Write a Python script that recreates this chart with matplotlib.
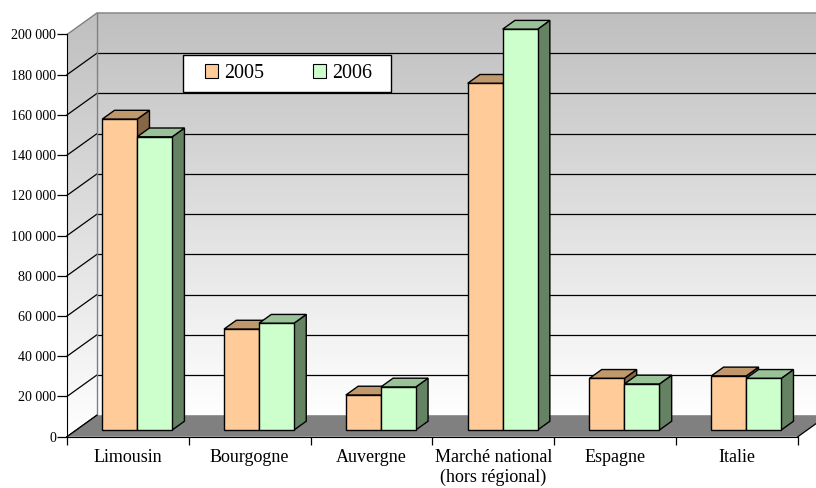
import matplotlib
matplotlib.use("Agg")
import matplotlib.pyplot as plt
import numpy as np
from matplotlib.patches import Polygon, Rectangle, Patch
from matplotlib.colors import LinearSegmentedColormap

categories = ["Limousin", "Bourgogne", "Auvergne", "Marché national\n(hors régional)", "Espagne", "Italie"]
series_names = ["2005", "2006"]
values_2005 = [154600, 50200, 17400, 172400, 25700, 26900]
values_2006 = [145800, 53100, 21400, 199300, 22900, 25700]
y_ticks = list(range(0, 200001, 20000))

FRONT = ["#FFCC99", "#CCFFCC"]
TOP = ["#C0986C", "#99C299"]
SIDE = ["#866644", "#658262"]
FLOOR = "#808080"
WALL_EDGE = "#808080"

plt.rcParams["font.family"] = ["Liberation Serif", "DejaVu Serif"]

# 3D-ish geometry (data units)
DX = 0.246      # depth offset along x (category units)
DY = 10700      # depth offset along y (value units)
X0, X1 = -0.5, 5.5
XR = 5.75
BW = 0.287      # bar width
F0, F1 = 0.31, 0.72   # bar depth span as fraction of floor depth

fig = plt.figure(figsize=(8.16, 4.88), dpi=100)
ax = fig.add_axes([0, 0, 1, 1])
ax.set_xlim(-1.050, 5.649)
ax.set_ylim(-25500, 217150)

# gradient walls
cmap = LinearSegmentedColormap.from_list("wall", ["#FFFFFF", "#BFBFBF"])
grad = np.linspace(0, 1, 256).reshape(-1, 1)
ytop = 200000 + DY

back = Polygon([(X0 + DX, DY), (XR, DY), (XR, ytop), (X0 + DX, ytop)], closed=True,
               facecolor="none", edgecolor="none", transform=ax.transData)
ax.add_patch(back)
im = ax.imshow(grad, extent=[X0 + DX, XR, DY, ytop], origin="lower", aspect="auto",
               cmap=cmap, zorder=0)
im.set_clip_path(back)

left = Polygon([(X0, 0), (X0 + DX, DY), (X0 + DX, ytop), (X0, 200000)], closed=True,
               facecolor="none", edgecolor="none", transform=ax.transData)
ax.add_patch(left)
im2 = ax.imshow(grad, extent=[X0, X0 + DX, 0, ytop], origin="lower", aspect="auto",
                cmap=cmap, zorder=0)
im2.set_clip_path(left)

# gridlines
for v in y_ticks[1:-1]:
    ax.plot([X0 + DX, XR], [v + DY, v + DY], color="black", lw=0.9, zorder=1)
for v in y_ticks[:-1]:
    ax.plot([X0, X0 + DX], [v, v + DY], color="black", lw=0.9, zorder=1)

# wall edges
ax.plot([X0, X0 + DX, XR], [200000, ytop, ytop], color=WALL_EDGE, lw=1.0, zorder=1)
ax.plot([X0 + DX, X0 + DX], [DY, ytop], color=WALL_EDGE, lw=1.0, zorder=1)

# floor
floor = Polygon([(X0, 0), (X1, 0), (X1 + DX, DY), (X0 + DX, DY)], closed=True,
                facecolor=FLOOR, edgecolor="none", zorder=2)
ax.add_patch(floor)
ax.plot([X0, X0 + DX], [0, DY], color="black", lw=0.9, zorder=2)
ax.plot([X1, X1 + DX], [0, DY], color="black", lw=0.9, zorder=2)

# bars
OX, OY = F0 * DX, F0 * DY
BDX, BDY = (F1 - F0) * DX, (F1 - F0) * DY
z = 3
for i in range(len(categories)):
    for j, vals in enumerate([values_2005, values_2006]):
        v = vals[i]
        xl = i + OX - BW + j * BW
        side = Polygon([(xl + BW, OY), (xl + BW + BDX, OY + BDY), (xl + BW + BDX, OY + v + BDY),
                        (xl + BW, OY + v)], closed=True, facecolor=SIDE[j], edgecolor="black",
                       lw=1.0, zorder=z)
        top = Polygon([(xl, OY + v), (xl + BW, OY + v), (xl + BW + BDX, OY + v + BDY),
                       (xl + BDX, OY + v + BDY)], closed=True, facecolor=TOP[j], edgecolor="black",
                      lw=1.0, zorder=z)
        front = Rectangle((xl, OY), BW, v, facecolor=FRONT[j], edgecolor="black", lw=1.0, zorder=z + 0.5)
        ax.add_patch(side)
        ax.add_patch(top)
        ax.add_patch(front)
        z += 1

# axes
for s in ["top", "right"]:
    ax.spines[s].set_visible(False)
ax.spines["left"].set_position(("data", X0))
ax.spines["left"].set_bounds(0, 200000)
ax.spines["bottom"].set_position(("data", 0))
ax.spines["bottom"].set_bounds(X0, X1)
ax.spines["left"].set_zorder(20)
ax.spines["bottom"].set_zorder(20)
ax.set_yticks(y_ticks)
ax.set_yticklabels([f"{v:,}".replace(",", " ") for v in y_ticks])
ax.tick_params(axis="y", direction="out", length=7, width=0.9, pad=1, labelsize=10.1)
ax.set_xticks(range(len(categories)))
ax.set_xticklabels(categories)
ax.set_xticks(np.arange(X0, X1 + 0.01, 1.0), minor=True)
ax.tick_params(axis="x", which="major", length=0, pad=9, labelsize=13)
ax.tick_params(axis="x", which="minor", direction="out", length=6, width=0.9)
ax.set_facecolor("white")

# legend
fig.patches.append(Rectangle((183 / 816, 1 - 92 / 488), (391 - 183) / 816, 37 / 488,
                             transform=fig.transFigure, facecolor="white", edgecolor="black",
                             lw=1.0, zorder=30))
handles = [Patch(facecolor=FRONT[k], edgecolor="black", lw=0.8) for k in range(2)]
leg = fig.legend(handles, series_names, loc="center", bbox_to_anchor=(288.5 / 816, 1 - 73.5 / 488),
                 ncol=2, frameon=False, fontsize=14.4, handlelength=0.65, handleheight=0.65,
                 handletextpad=0.32, columnspacing=2.4)
leg.set_zorder(31)

fig.savefig("out.png", dpi=100)
